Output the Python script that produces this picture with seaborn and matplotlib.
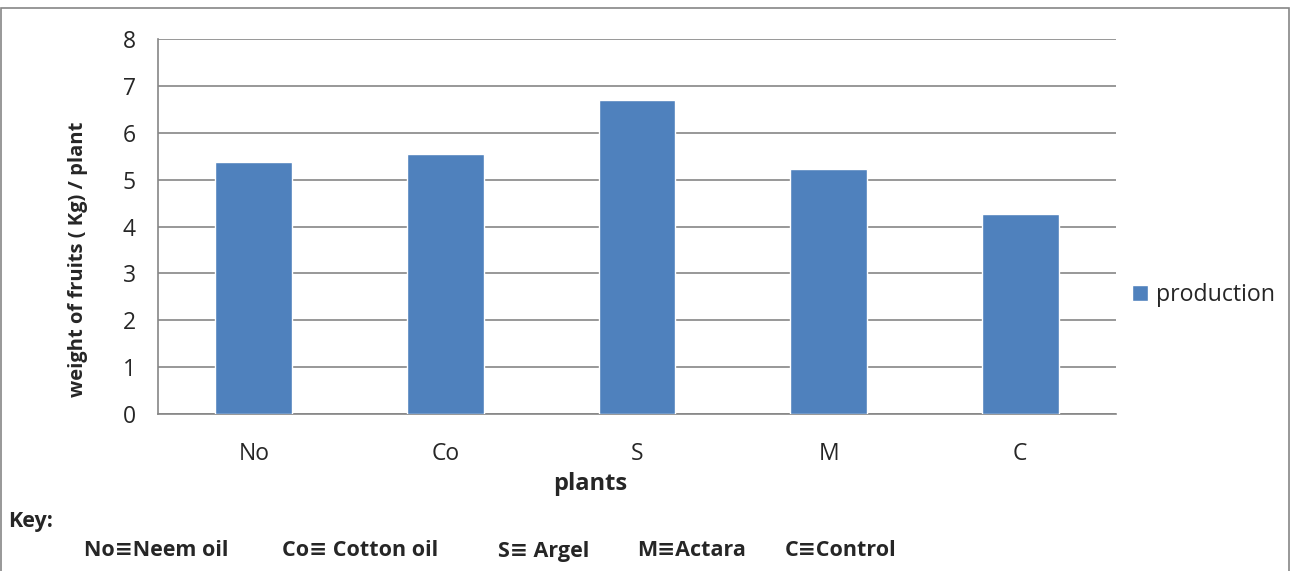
import matplotlib
matplotlib.use("Agg")
import matplotlib.pyplot as plt
import seaborn as sns
import pandas as pd
from matplotlib.patches import Rectangle, Patch
from matplotlib.ticker import MultipleLocator, FixedLocator

# Données
plants = ["No", "Co", "S", "M", "C"]
production = [5.38, 5.55, 6.70, 5.22, 4.27]
key_labels = ["No≡Neem oil", "Co≡ Cotton oil", "S≡ Argel", "M≡Actara", "C≡Control"]

df = pd.DataFrame({"plants": plants, "production": production})

sns.set_style("white")
plt.rcParams['font.family'] = ['Open Sans', 'DejaVu Sans']

BAR = '#4F81BD'
GRID = '#868686'

fig = plt.figure(figsize=(12.9, 5.71), dpi=100)
ax = fig.add_axes([158 / 1290, 1 - 414 / 571, (1116 - 158) / 1290, (414 - 39) / 571])

sns.barplot(data=df, x="plants", y="production", color=BAR, width=0.4,
            saturation=1, ax=ax, zorder=3)

ax.set_ylim(0, 8)
ax.set_xlim(-0.5, len(plants) - 0.5)
ax.yaxis.set_major_locator(MultipleLocator(1))
ax.grid(True, axis='y', color=GRID, linewidth=1.2, zorder=0)
ax.set_axisbelow(True)

for s in ['top', 'right']:
    ax.spines[s].set_visible(False)
for s in ['left', 'bottom']:
    ax.spines[s].set_color(GRID)
    ax.spines[s].set_linewidth(1.2)

ax.xaxis.set_minor_locator(FixedLocator([i - 0.5 for i in range(len(plants) + 1)]))
ax.tick_params(axis='x', which='major', length=0, pad=20, labelsize=16.5)
ax.tick_params(axis='x', which='minor', length=6, color=GRID, width=1.2, direction='out')
ax.tick_params(axis='y', length=6, color=GRID, width=1.2, direction='out', labelsize=16.5, pad=10)

ax.set_xlabel("plants", fontsize=17, fontweight='bold')
ax.xaxis.set_label_coords((590 - 158) / (1116 - 158), -(484 - 414) / (414 - 39))
ax.xaxis.label.set_va('center')
ax.set_ylabel("weight of fruits ( Kg) / plant", fontsize=14.5, fontweight='bold')
ax.yaxis.set_label_coords(-(158 - 78) / (1116 - 158), (414 - 259) / (414 - 39))
ax.yaxis.label.set_va('center')

# Légende
fig.legend(handles=[Patch(facecolor=BAR, label='production')],
           loc='center left', bbox_to_anchor=(1111 / 1290, 1 - 295 / 571),
           frameon=False, fontsize=16.7, handlelength=0.7, handleheight=0.7,
           handletextpad=0.35)

# Clé
fig.text(8 / 1290, 1 - 522 / 571, "Key:", fontsize=15.5, fontweight='bold',
         va='center', ha='left')
key_x = [84, 282, 498, 637, 785]
for x, lab in zip(key_x, key_labels):
    fig.text(x / 1290, 1 - 551 / 571, lab, fontsize=15.5, fontweight='bold',
             va='center', ha='left')

# Cadre
fig.patches.append(Rectangle((0.0008, -0.05), 0.9984, 1.036, transform=fig.transFigure,
                             fill=False, edgecolor=GRID, linewidth=1.2))

fig.savefig("out.png", dpi=100)
